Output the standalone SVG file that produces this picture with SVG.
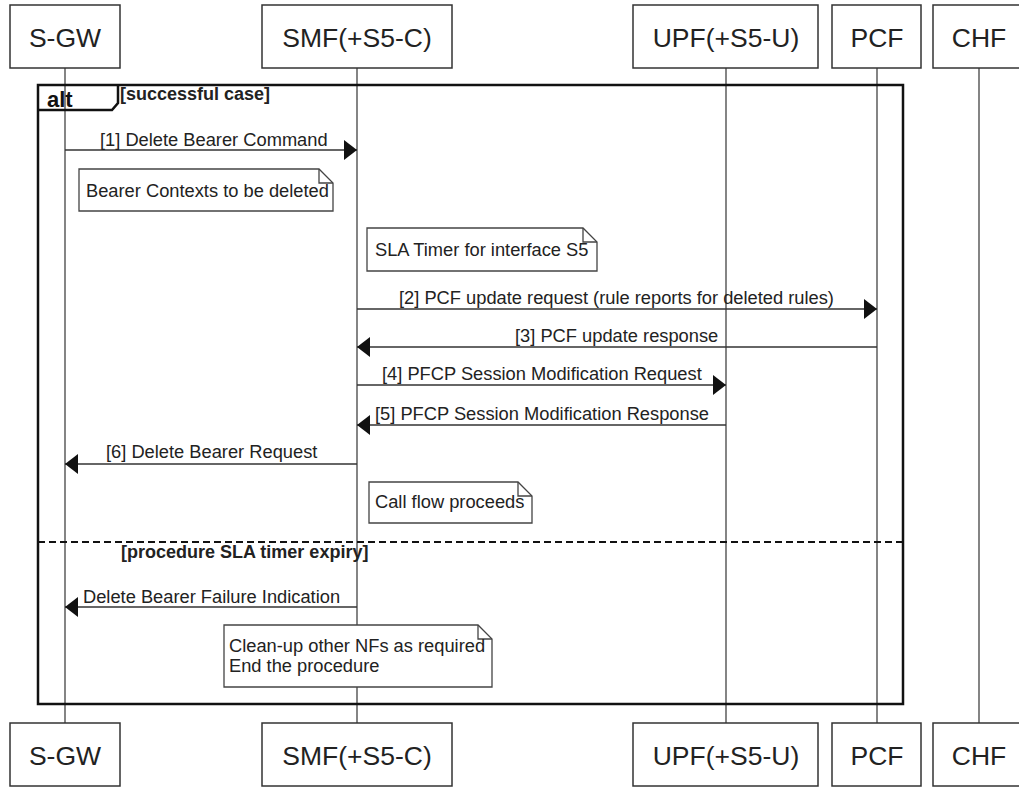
<svg xmlns="http://www.w3.org/2000/svg" width="1019" height="787" viewBox="0 0 1019 787">
<style>
.box{fill:#fff;stroke:#333;stroke-width:1.5}
.life{stroke:#333;stroke-width:1.2;fill:none}
.title{font-family:"Liberation Sans",Arial,sans-serif;font-size:26.5px;fill:#222;text-anchor:middle}
.msg{stroke:#333;stroke-width:1.5;fill:none;marker-end:url(#ah)}
.lbl{font-family:"Liberation Sans",Arial,sans-serif;font-size:18.3px;fill:#222}
.note{fill:#fff;stroke:#444;stroke-width:1.3}
.fold{fill:none;stroke:#444;stroke-width:1.3}
.frame{fill:none;stroke:#111;stroke-width:2.5}
.blbl{font-family:"Liberation Sans",Arial,sans-serif;font-weight:bold;font-size:18px;fill:#222}
</style>
<defs>
<marker id="ah" markerUnits="userSpaceOnUse" viewBox="0 0 13 20" refX="13" refY="10" markerWidth="13" markerHeight="20" orient="auto"><path d="M0,0 L13,10 L0,20 Z" fill="#111"/></marker>
</defs>
<rect width="1019" height="787" fill="#fff"/>

<g id="sgw">
<line class="life" x1="65" y1="68" x2="65" y2="723"/>
<rect class="box" x="10" y="5" width="110" height="63"/>
<text class="title" x="65" y="47">S-GW</text>
<rect class="box" x="10" y="723" width="110" height="63"/>
<text class="title" x="65" y="765">S-GW</text>
</g>
<g id="smf">
<line class="life" x1="357" y1="68" x2="357" y2="723"/>
<rect class="box" x="262" y="5" width="190" height="63"/>
<text class="title" x="357" y="47">SMF(+S5-C)</text>
<rect class="box" x="262" y="723" width="190" height="63"/>
<text class="title" x="357" y="765">SMF(+S5-C)</text>
</g>
<g id="upf">
<line class="life" x1="726" y1="68" x2="726" y2="723"/>
<rect class="box" x="633" y="5" width="185" height="63"/>
<text class="title" x="726" y="47">UPF(+S5-U)</text>
<rect class="box" x="633" y="723" width="185" height="63"/>
<text class="title" x="726" y="765">UPF(+S5-U)</text>
</g>
<g id="pcf">
<line class="life" x1="877" y1="68" x2="877" y2="723"/>
<rect class="box" x="832" y="5" width="89" height="63"/>
<text class="title" x="877" y="47">PCF</text>
<rect class="box" x="832" y="723" width="89" height="63"/>
<text class="title" x="877" y="765">PCF</text>
</g>
<g id="chf">
<line class="life" x1="979" y1="68" x2="979" y2="723"/>
<rect class="box" x="933" y="5" width="92" height="63"/>
<text class="title" x="979" y="47">CHF</text>
<rect class="box" x="933" y="723" width="92" height="63"/>
<text class="title" x="979" y="765">CHF</text>
</g>

<g id="alt-frame">
<rect class="frame" x="38" y="85" width="865" height="619"/>
<path class="frame" d="M38,110 H112 L118,103 V85"/>
<text x="47" y="107" style="font-family:'Liberation Sans',Arial,sans-serif;font-weight:bold;font-size:22px;fill:#111">alt</text>
<text class="blbl" x="120" y="100">[successful case]</text>
<line x1="38" y1="542" x2="903" y2="542" stroke="#111" stroke-width="2.2" stroke-dasharray="7 4"/>
<text class="blbl" x="121" y="558">[procedure SLA timer expiry]</text>
</g>

<g id="note1">
<path class="note" d="M79,169 H319 L333,183 V211 H79 Z"/>
<path class="fold" d="M319,169 V183 H333"/>
<text class="lbl" x="86" y="197">Bearer Contexts to be deleted</text>
</g>
<g id="note2">
<path class="note" d="M367,228 H583 L597,242 V271 H367 Z"/>
<path class="fold" d="M583,228 V242 H597"/>
<text class="lbl" x="375" y="256">SLA Timer for interface S5</text>
</g>
<g id="note3">
<path class="note" d="M369,482 H518 L532,496 V523 H369 Z"/>
<path class="fold" d="M518,482 V496 H532"/>
<text class="lbl" x="375" y="508">Call flow proceeds</text>
</g>
<g id="note4">
<path class="note" d="M224,625 H478 L492,639 V687 H224 Z"/>
<path class="fold" d="M478,625 V639 H492"/>
<text class="lbl" x="229" y="652">Clean-up other NFs as required</text>
<text class="lbl" x="229" y="672">End the procedure</text>
</g>

<g id="connectors">
<path class="msg" d="M65,150 H357"/>
<text class="lbl" x="100" y="146">[1] Delete Bearer Command</text>
<path class="msg" d="M357,309 H877"/>
<text class="lbl" x="399" y="304">[2] PCF update request (rule reports for deleted rules)</text>
<path class="msg" d="M877,347 H357"/>
<text class="lbl" x="515" y="342">[3] PCF update response</text>
<path class="msg" d="M357,385 H726"/>
<text class="lbl" x="382" y="380">[4] PFCP Session Modification Request</text>
<path class="msg" d="M726,425 H357"/>
<text class="lbl" x="375" y="420">[5] PFCP Session Modification Response</text>
<path class="msg" d="M357,464 H65"/>
<text class="lbl" x="106" y="458">[6] Delete Bearer Request</text>
<path class="msg" d="M357,607 H65"/>
<text class="lbl" x="83" y="603">Delete Bearer Failure Indication</text>
</g>
</svg>
